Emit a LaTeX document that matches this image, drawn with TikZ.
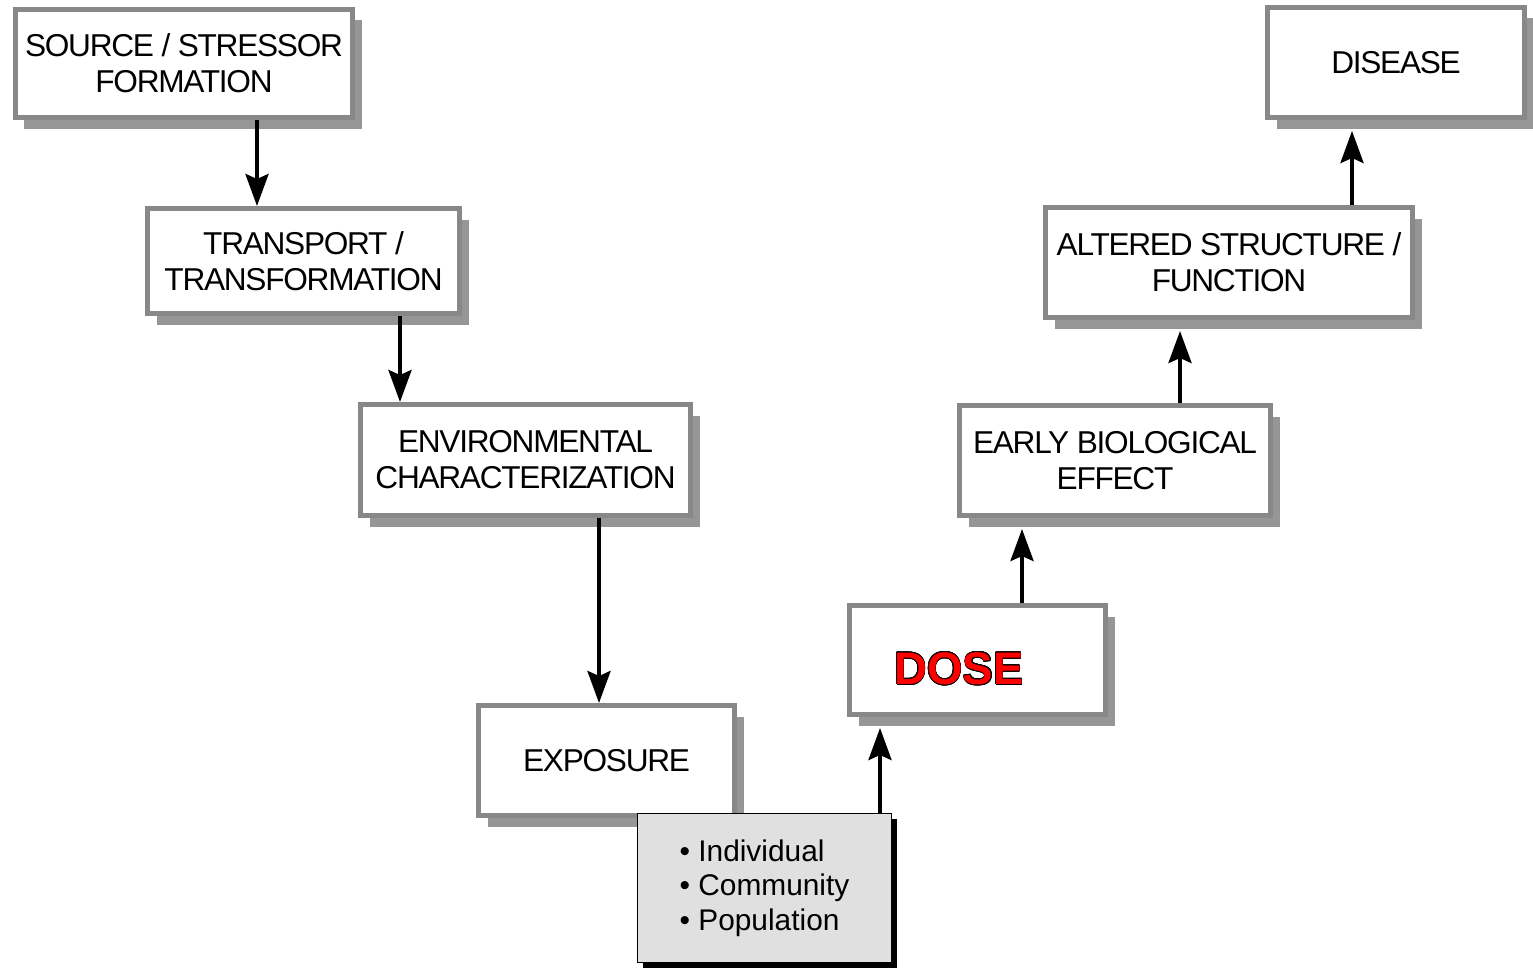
\documentclass[tikz,border=0pt]{standalone}
\usepackage{fontspec}
\setmainfont{Liberation Sans}
\newfontfamily\stagefont[LetterSpace=-4]{Liberation Sans}
\usepackage{contour}
\usetikzlibrary{arrows.meta,shadows,calc}
\definecolor{boxline}{RGB}{136,136,136}
\definecolor{boxshade}{RGB}{150,150,150}
\definecolor{notefill}{RGB}{224,224,224}
\definecolor{doseRed}{RGB}{255,0,0}
\contourlength{0.4pt}
\begin{document}
\begin{tikzpicture}[x=0.02cm,y=-0.02cm,
  sz/.style 2 args={minimum width=#1*0.02cm, minimum height=#2*0.02cm},
  stage/.style={draw=boxline, line width=0.1cm, fill=white, inner sep=0pt,
    align=center, font=\stagefont\fontsize{18}{20.5}\selectfont,
    drop shadow={shadow xshift=0.18cm, shadow yshift=-0.22cm, fill=boxshade, opacity=1}},
  note/.style={draw=black, line width=0.8pt, fill=notefill, inner sep=0pt,
    align=left, font=\fontsize{17}{19.5}\selectfont,
    drop shadow={shadow xshift=0.1cm, shadow yshift=-0.1cm, fill=black, opacity=1}},
  flow/.style={line width=0.08cm, -{Stealth[length=0.64cm, width=0.46cm, inset=0.1cm]}}]
\useasboundingbox (0,0) rectangle (1533,967);

% stages of the exposure-to-disease chain
\node[stage, sz={337}{108}] (source)   at (184,63.5)  {SOURCE / STRESSOR\\FORMATION};
\node[stage, sz={312}{105}] (transport) at (303.5,261) {TRANSPORT /\\TRANSFORMATION};
\node[stage, sz={330}{111}] (env)      at (525.5,460) {ENVIRONMENTAL\\CHARACTERIZATION};
\node[stage, sz={256}{110}] (exposure) at (606.5,760.5) {EXPOSURE};
\node[stage, sz={256}{109}] (dose)     at (977.5,660) {};
\node[font=\fontsize{26}{28}\selectfont\bfseries, inner sep=0pt] (doselabel) at (959,669)
  {\contour{black}{\textcolor{doseRed}{DOSE}}};
\node[stage, sz={311}{110}] (early)    at (1115,460.5) {EARLY BIOLOGICAL\\EFFECT};
\node[stage, sz={367}{110}] (altered)  at (1229,262.5) {ALTERED STRUCTURE /\\FUNCTION};
\node[stage, sz={257}{110}] (disease)  at (1396,62.5) {DISEASE};

% level of the exposed receptor
\node[note, sz={254}{149}] (level) at (764.5,888)
  {\textbullet\ Individual\\\textbullet\ Community\\\textbullet\ Population};

% downward path
\draw[flow] (source.south -| 257,0) -- (transport.north -| 257,0);
\draw[flow] (transport.south -| 400,0) -- (env.north -| 400,0);
\draw[flow] (env.south -| 599,0) -- (exposure.north -| 599,0);

% upward path
\draw[flow] (level.north -| 880,0) -- ($(dose.south -| 880,0)+(0,11)$);
\draw[flow] (dose.north -| 1022,0) -- ($(early.south -| 1022,0)+(0,11)$);
\draw[flow] (early.north -| 1180,0) -- ($(altered.south -| 1180,0)+(0,11)$);
\draw[flow] (altered.north -| 1352,0) -- ($(disease.south -| 1352,0)+(0,11)$);
\end{tikzpicture}
\end{document}
